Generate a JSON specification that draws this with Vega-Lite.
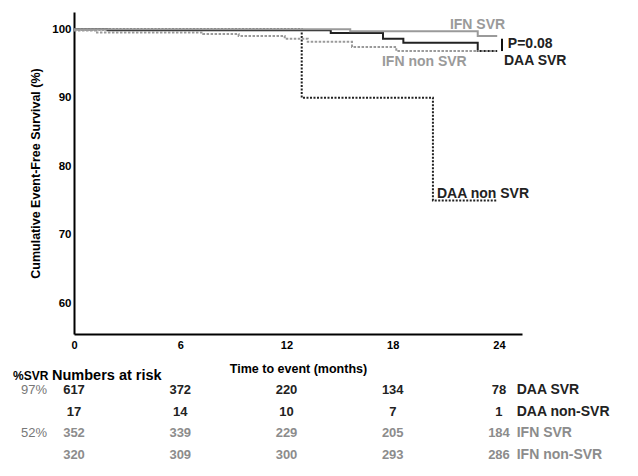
{
  "$schema": "https://vega.github.io/schema/vega-lite/v6.json",
  "padding": {"left": 13, "top": 12, "right": 2, "bottom": 2},
  "bounds": "flush",
  "spacing": 45,
  "background": "white",
  "config": {"font": "Liberation Sans", "view": {"stroke": null}},
  "resolve": {"scale": {"x": "independent", "y": "independent", "color": "independent"}},
  "datasets": {
    "km": [
      {"curve": "DAA SVR", "month": 0, "surv": 100},
      {"curve": "DAA SVR", "month": 1.9, "surv": 99.85},
      {"curve": "DAA SVR", "month": 14.5, "surv": 99.45},
      {"curve": "DAA SVR", "month": 17.45, "surv": 98.6},
      {"curve": "DAA SVR", "month": 18.6, "surv": 98.0},
      {"curve": "DAA SVR", "month": 22.8, "surv": 96.8},
      {"curve": "DAA SVR", "month": 23.9, "surv": 96.8},
      {"curve": "DAA non SVR", "month": 0, "surv": 100},
      {"curve": "DAA non SVR", "month": 12.86, "surv": 90},
      {"curve": "DAA non SVR", "month": 20.27, "surv": 75},
      {"curve": "DAA non SVR", "month": 23.9, "surv": 75},
      {"curve": "IFN non SVR", "month": 0, "surv": 99.8},
      {"curve": "IFN non SVR", "month": 1.3, "surv": 99.5},
      {"curve": "IFN non SVR", "month": 7.3, "surv": 99.3},
      {"curve": "IFN non SVR", "month": 9.3, "surv": 99.0},
      {"curve": "IFN non SVR", "month": 11.9, "surv": 98.6},
      {"curve": "IFN non SVR", "month": 13.2, "surv": 98.15},
      {"curve": "IFN non SVR", "month": 15.7, "surv": 97.4},
      {"curve": "IFN non SVR", "month": 18.2, "surv": 96.8},
      {"curve": "IFN non SVR", "month": 23.9, "surv": 96.8},
      {"curve": "IFN SVR", "month": 0, "surv": 100},
      {"curve": "IFN SVR", "month": 15.6, "surv": 99.7},
      {"curve": "IFN SVR", "month": 22.8, "surv": 99.0},
      {"curve": "IFN SVR", "month": 23.9, "surv": 99.0}
    ],
    "labels": [
      {"label": "IFN SVR", "curve": "IFN SVR", "month": 21.23, "surv": 100.55},
      {"label": "P=0.08", "curve": "DAA SVR", "month": 24.5, "surv": 97.8},
      {"label": "DAA SVR", "curve": "DAA SVR", "month": 24.28, "surv": 95.32},
      {"label": "IFN non SVR", "curve": "IFN non SVR", "month": 17.39, "surv": 95.17},
      {"label": "DAA non SVR", "curve": "DAA non SVR", "month": 20.5, "surv": 75.9}
    ],
    "bracket": [{"month": 24.17, "hi": 98.6, "lo": 96.8}],
    "risk": [
      {"arm": "DAA", "row": 1, "month": 0, "n": 617},
      {"arm": "DAA", "row": 1, "month": 6, "n": 372},
      {"arm": "DAA", "row": 1, "month": 12, "n": 220},
      {"arm": "DAA", "row": 1, "month": 18, "n": 134},
      {"arm": "DAA", "row": 1, "month": 24, "n": 78},
      {"arm": "DAA", "row": 2, "month": 0, "n": 17},
      {"arm": "DAA", "row": 2, "month": 6, "n": 14},
      {"arm": "DAA", "row": 2, "month": 12, "n": 10},
      {"arm": "DAA", "row": 2, "month": 18, "n": 7},
      {"arm": "DAA", "row": 2, "month": 24, "n": 1},
      {"arm": "IFN", "row": 3, "month": 0, "n": 352},
      {"arm": "IFN", "row": 3, "month": 6, "n": 339},
      {"arm": "IFN", "row": 3, "month": 12, "n": 229},
      {"arm": "IFN", "row": 3, "month": 18, "n": 205},
      {"arm": "IFN", "row": 3, "month": 24, "n": 184},
      {"arm": "IFN", "row": 4, "month": 0, "n": 320},
      {"arm": "IFN", "row": 4, "month": 6, "n": 309},
      {"arm": "IFN", "row": 4, "month": 12, "n": 300},
      {"arm": "IFN", "row": 4, "month": 18, "n": 293},
      {"arm": "IFN", "row": 4, "month": 24, "n": 286}
    ],
    "groups": [
      {"arm": "DAA", "row": 1, "group": "DAA SVR"},
      {"arm": "DAA", "row": 2, "group": "DAA non-SVR"},
      {"arm": "IFN", "row": 3, "group": "IFN SVR"},
      {"arm": "IFN", "row": 4, "group": "IFN non-SVR"}
    ],
    "svr": [
      {"arm": "DAA", "row": 1, "pct": "97%"},
      {"arm": "IFN", "row": 3, "pct": "52%"}
    ],
    "header": [
      {"label": "%SVR", "month": -3.44, "size": "small"},
      {"label": "Numbers at risk", "month": -1.24, "size": "large"}
    ]
  },
  "vconcat": [
    {
      "width": 448,
      "height": 322,
      "layer": [
        {
          "data": {"name": "km"},
          "mark": {"type": "line", "interpolate": "step-after", "strokeWidth": 2},
          "encoding": {
            "x": {
              "field": "month", "type": "quantitative",
              "scale": {"domain": [0, 25.3], "nice": false, "zero": false},
              "axis": {
                "values": [0, 6, 12, 18, 24], "ticks": false, "grid": false,
                "domainColor": "#000", "domainWidth": 2,
                "labelFontWeight": "bold", "labelFontSize": 11, "labelColor": "#000",
                "labelPadding": 5, "labelFlush": false,
                "title": "Time to event (months)", "titleFontSize": 12.5,
                "titleFontWeight": "bold", "titleColor": "#000", "titlePadding": 12
              }
            },
            "y": {
              "field": "surv", "type": "quantitative",
              "scale": {"domain": [55.5, 102.5], "nice": false, "zero": false},
              "axis": {
                "values": [60, 70, 80, 90, 100], "ticks": false, "grid": false,
                "domainColor": "#000", "domainWidth": 2,
                "labelFontWeight": "bold", "labelFontSize": 11.5, "labelColor": "#000",
                "labelPadding": 3,
                "title": "Cumulative Event-Free Survival (%)", "titleFontSize": 12.5,
                "titleFontWeight": "bold", "titleColor": "#000", "titlePadding": 9
              }
            },
            "color": {
              "field": "curve", "type": "nominal",
              "scale": {"domain": ["DAA SVR", "DAA non SVR", "IFN SVR", "IFN non SVR"],
                        "range": ["#222222", "#222222", "#9a9a9a", "#9a9a9a"]},
              "legend": null
            },
            "strokeDash": {
              "field": "curve", "type": "nominal",
              "scale": {"domain": ["DAA SVR", "DAA non SVR", "IFN SVR", "IFN non SVR"],
                        "range": [[1, 0], [2, 1.5], [1, 0], [2.5, 1.5]]},
              "legend": null
            }
          }
        },
        {
          "data": {"name": "bracket"},
          "mark": {"type": "rule", "strokeWidth": 2, "color": "#111"},
          "encoding": {
            "x": {"field": "month", "type": "quantitative"},
            "y": {"field": "hi", "type": "quantitative"},
            "y2": {"field": "lo"}
          }
        },
        {
          "data": {"name": "labels"},
          "mark": {"type": "text", "align": "left", "baseline": "middle", "fontSize": 14, "fontWeight": "bold"},
          "encoding": {
            "x": {"field": "month", "type": "quantitative"},
            "y": {"field": "surv", "type": "quantitative"},
            "text": {"field": "label"},
            "color": {"field": "curve", "type": "nominal", "legend": null}
          }
        }
      ]
    },
    {
      "width": 448,
      "height": 87,
      "layer": [
        {
          "data": {"name": "risk"},
          "mark": {"type": "text", "fontSize": 13, "fontWeight": "bold", "baseline": "middle", "align": "center"},
          "encoding": {
            "x": {"field": "month", "type": "quantitative", "scale": {"domain": [0, 25.3], "nice": false, "zero": false}, "axis": null},
            "y": {"field": "row", "type": "quantitative", "scale": {"domain": [0.5, 4.5], "reverse": true, "nice": false, "zero": false}, "axis": null},
            "text": {"field": "n"},
            "color": {"field": "arm", "type": "nominal", "scale": {"domain": ["DAA", "IFN"], "range": ["#222222", "#8c8c8c"]}, "legend": null}
          }
        },
        {
          "data": {"name": "groups"},
          "mark": {"type": "text", "fontSize": 14, "fontWeight": "bold", "baseline": "middle", "align": "left"},
          "encoding": {
            "x": {"datum": 25.0, "type": "quantitative"},
            "y": {"field": "row", "type": "quantitative"},
            "text": {"field": "group"},
            "color": {"field": "arm", "type": "nominal", "legend": null}
          }
        },
        {
          "data": {"name": "svr"},
          "mark": {"type": "text", "fontSize": 13, "fontWeight": "normal", "baseline": "middle", "align": "right", "color": "#777"},
          "encoding": {
            "x": {"datum": -1.52, "type": "quantitative"},
            "y": {"field": "row", "type": "quantitative"},
            "text": {"field": "pct"}
          }
        },
        {
          "data": {"name": "header"},
          "mark": {"type": "text", "fontWeight": "bold", "baseline": "middle", "align": "left", "color": "#000"},
          "encoding": {
            "x": {"field": "month", "type": "quantitative"},
            "y": {"datum": 0.34, "type": "quantitative"},
            "text": {"field": "label"},
            "size": {"field": "size", "type": "nominal", "scale": {"domain": ["small", "large"], "range": [12, 14.5]}, "legend": null}
          }
        }
      ]
    }
  ]
}
